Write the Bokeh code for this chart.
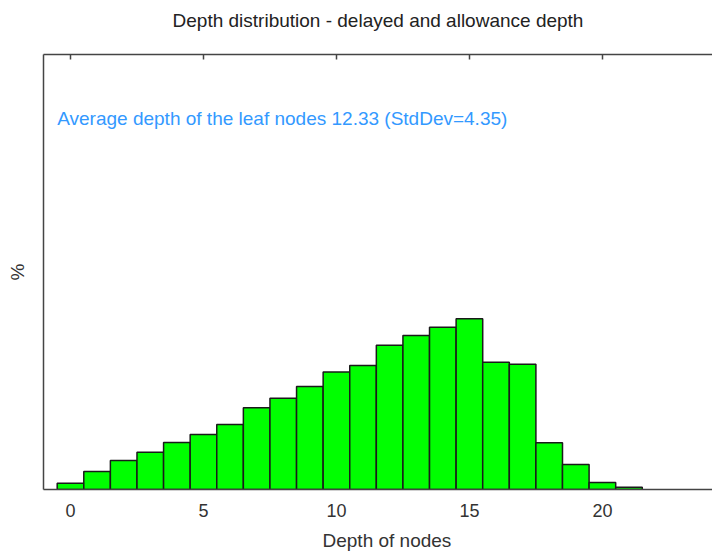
from bokeh.plotting import figure
from bokeh.models import Range1d, LinearAxis, FixedTicker, Label, ColumnDataSource, Title
from bokeh.embed import file_html
from bokeh.resources import INLINE

# Data: depth of nodes and percentage of nodes at each depth
depths = list(range(0, 22))
percent = [0.36, 1.03, 1.67, 2.14, 2.70, 3.16, 3.74, 4.70, 5.25, 5.92, 6.76,
           7.13, 8.29, 8.85, 9.33, 9.81, 7.32, 7.20, 2.68, 1.44, 0.40, 0.13]
x_ticks = [0, 5, 10, 15, 20]
title_text = "Depth distribution - delayed and allowance depth"
note_text = "Average depth of the leaf nodes 12.33 (StdDev=4.35)"
x_label = "Depth of nodes"
y_label = "%"

FONT = "Liberation Sans"
AXIS_COL = "#444444"
TXT = "19px"

src = ColumnDataSource(dict(x=depths, top=percent))

p = figure(width=712, height=558, output_backend="svg", toolbar_location=None,
           x_range=Range1d(-1.015, 24.14), y_range=Range1d(0, 25),
           x_axis_location=None, y_axis_location=None,
           min_border_left=43, min_border_right=0, min_border_top=54,
           min_border_bottom=69)
p.outline_line_color = None
p.grid.visible = False
p.background_fill_color = "white"
p.border_fill_color = "white"

p.vbar(x="x", top="top", width=1.0, bottom=0, source=src,
       fill_color="#00FF00", line_color="#1a1a1a", line_width=1.5)

# bottom axis
bx = LinearAxis(ticker=FixedTicker(ticks=x_ticks))
bx.major_tick_out = 0
bx.major_tick_in = 0
bx.minor_tick_out = 0
bx.minor_tick_in = 0
bx.axis_line_color = AXIS_COL
bx.axis_line_width = 1.5
bx.major_label_text_font = FONT
bx.major_label_text_font_size = "18px"
bx.major_label_text_color = "#333333"
bx.major_label_standoff = 14
p.add_layout(bx, "below")

# x axis title (placed as a below title so it can be shifted like the original)
p.add_layout(Title(text=x_label, align="left", offset=279,
                   text_font=FONT, text_font_size=TXT,
                   text_font_style="normal", text_color="#333333",
                   standoff=16), "below")

# top axis (inward ticks only); its axis label carries the chart title
tx = LinearAxis(ticker=FixedTicker(ticks=x_ticks), axis_label=title_text)
tx.major_tick_out = 0
tx.major_tick_in = 5
tx.major_tick_line_color = AXIS_COL
tx.major_tick_line_width = 1.5
tx.minor_tick_out = 0
tx.minor_tick_in = 0
tx.axis_line_color = AXIS_COL
tx.axis_line_width = 1.5
tx.major_label_text_font_size = "0px"
tx.major_label_text_color = None
tx.axis_label_text_font = FONT
tx.axis_label_text_font_size = TXT
tx.axis_label_text_font_style = "normal"
tx.axis_label_text_color = "#222222"
tx.axis_label_standoff = 24
p.add_layout(tx, "above")

# left axis (line + label only)
ly = LinearAxis(ticker=FixedTicker(ticks=[]), axis_label=y_label)
ly.major_tick_out = 0
ly.major_tick_in = 0
ly.minor_tick_out = 0
ly.minor_tick_in = 0
ly.axis_line_color = AXIS_COL
ly.axis_line_width = 1.5
ly.major_label_text_font_size = "0px"
ly.axis_label_text_font = FONT
ly.axis_label_text_font_size = TXT
ly.axis_label_text_font_style = "normal"
ly.axis_label_text_color = "#333333"
ly.axis_label_standoff = 16
p.add_layout(ly, "left")

p.add_layout(Label(x=-0.5, y=21.3, text=note_text, text_font=FONT,
                   text_font_size=TXT, text_color="#3399FF",
                   text_baseline="middle", text_align="left"))

open("out.html", "w").write(file_html(p, INLINE))
